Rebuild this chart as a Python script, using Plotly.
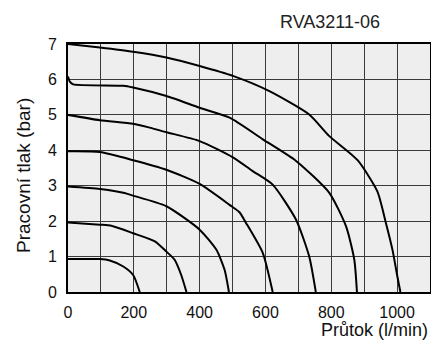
import plotly.graph_objects as go

# Flow (l/min) and pressure (bar) readings for each curve
p1_flow = [0, 97, 127, 168, 198, 218]
p1_pres = [0.93, 0.93, 0.89, 0.72, 0.48, 0.0]

p2_flow = [0, 97, 132, 198, 264, 299, 324, 344, 360]
p2_pres = [1.96, 1.90, 1.87, 1.66, 1.43, 1.14, 0.91, 0.48, 0.0]

p3_flow = [0, 97, 168, 198, 299, 400, 451, 476, 489]
p3_pres = [2.98, 2.91, 2.80, 2.72, 2.42, 1.76, 1.19, 0.62, 0.0]

p4_flow = [0, 97, 198, 299, 400, 491, 521, 541, 592, 622]
p4_pres = [3.97, 3.95, 3.72, 3.45, 3.05, 2.46, 2.25, 1.95, 1.10, 0.0]

p5_flow = [0, 97, 198, 248, 299, 400, 501, 560, 622, 693, 733, 753]
p5_pres = [5.0, 4.85, 4.75, 4.64, 4.51, 4.26, 3.80, 3.42, 3.03, 2.04, 1.0, 0.0]

p6_flow = [0, 6, 16, 168, 198, 299, 400, 491, 592, 693, 794, 845, 870, 878]
p6_pres = [6.08, 5.93, 5.86, 5.82, 5.77, 5.53, 5.20, 4.92, 4.31, 3.70, 2.80, 1.85, 0.91, 0.0]

p7_flow = [0, 97, 198, 299, 400, 501, 612, 733, 794, 880, 940, 966, 986, 1001, 1010]
p7_pres = [7.0, 6.90, 6.78, 6.62, 6.38, 6.10, 5.67, 5.01, 4.40, 3.72, 2.84, 1.95, 1.19, 0.43, 0.0]

curves = [(p1_flow, p1_pres), (p2_flow, p2_pres), (p3_flow, p3_pres), (p4_flow, p4_pres),
          (p5_flow, p5_pres), (p6_flow, p6_pres), (p7_flow, p7_pres)]

x_ticks = [0, 200, 400, 600, 800, 1000]
y_ticks = [0, 1, 2, 3, 4, 5, 6, 7]

title_text = "RVA3211-06"
x_title = "Průtok (l/min)"
y_title = "Pracovní tlak (bar)"

FONT = "Liberation Sans, Arial, sans-serif"

fig = go.Figure()
for fx, fy in curves:
    fig.add_trace(go.Scatter(x=fx, y=fy, mode="lines",
                             line=dict(color="black", width=2, shape="spline", smoothing=0.6),
                             showlegend=False, hoverinfo="skip"))

fig.update_layout(
    width=431, height=349,
    margin=dict(l=68, r=1, t=44, b=57),
    paper_bgcolor="white",
    plot_bgcolor="#eeeeee",
    font=dict(family=FONT, size=16, color="#111"),
    showlegend=False,
)

fig.update_xaxes(
    range=[0, 1100], tickvals=x_ticks, ticks="", ticklabelstandoff=5,
    showgrid=True, gridcolor="#3a3a3a", gridwidth=1,
    minor=dict(dtick=100, tick0=0, showgrid=True, gridcolor="#3a3a3a", gridwidth=1),
    showline=True, linecolor="black", linewidth=2, mirror=True, zeroline=False,
    tickfont=dict(size=16), automargin=False,
)
fig.update_yaxes(
    range=[0, 7], tickvals=y_ticks, ticks="", ticklabelstandoff=6,
    showgrid=True, gridcolor="#3a3a3a", gridwidth=1,
    showline=True, linecolor="black", linewidth=2, mirror=True, zeroline=False,
    tickfont=dict(size=16), automargin=False,
)

fig.add_annotation(text=title_text, xref="paper", yref="paper", x=0.724, y=1.087,
                   xanchor="center", yanchor="middle", showarrow=False,
                   font=dict(size=18, family=FONT, color="#222"))
fig.add_annotation(text=x_title, xref="paper", yref="paper", x=1.0, y=-0.155,
                   xanchor="right", yanchor="middle", showarrow=False,
                   font=dict(size=18, family=FONT, color="#111"))
fig.add_annotation(text=y_title, xref="paper", yref="paper", x=-0.1235, y=0.469,
                   xanchor="center", yanchor="middle", showarrow=False, textangle=-90,
                   font=dict(size=19, family=FONT, color="#111"))

fig.write_html("out.html", config={"displayModeBar": False},
               post_script="document.body.style.margin='0px';")
